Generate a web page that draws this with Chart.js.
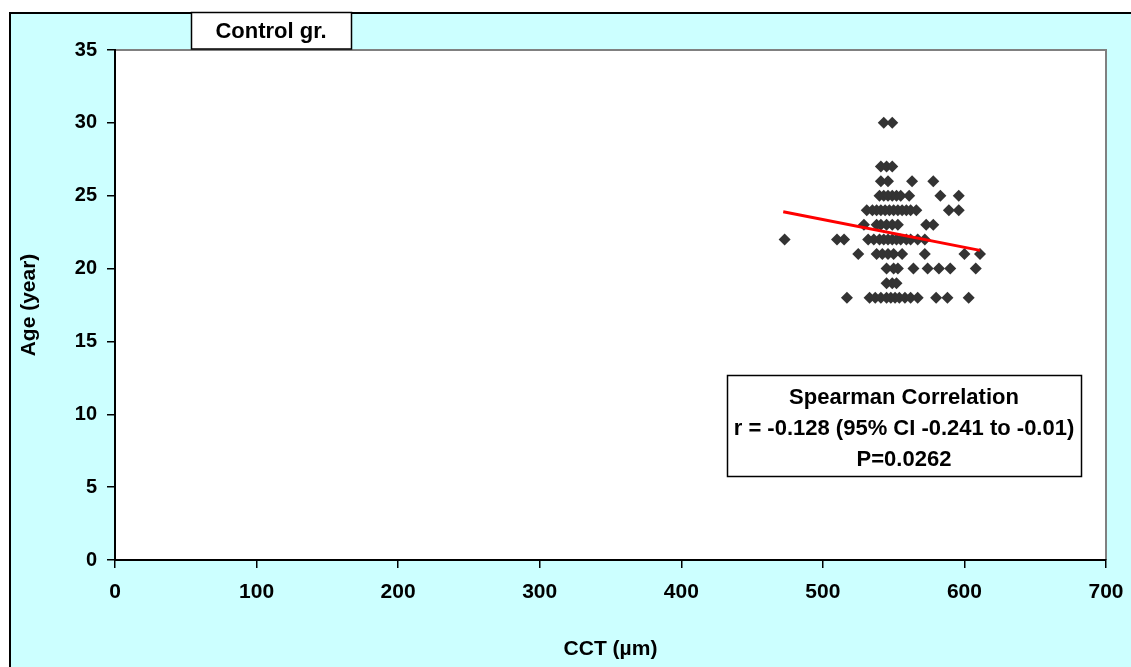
<!DOCTYPE html>
<html>
<head>
<meta charset="utf-8">
<script src="https://cdn.jsdelivr.net/npm/chart.js@4.4.0/dist/chart.umd.min.js"></script>
<style>
  html, body { margin: 0; padding: 0; background: #fff; }
  #wrap { width: 1131px; height: 667px; position: relative; }
</style>
</head>
<body>
<div id="wrap"><canvas id="myChart"></canvas></div>
<script>
// CCT readings (µm) grouped by age (years)
const ages = [18, 19, 20, 21, 22, 23, 24, 25, 26, 27, 30];
const cct18 = [517, 533, 537, 541, 545, 548, 551, 554, 558, 562, 567, 580, 588, 603];
const cct19 = [545, 549, 552];
const cct20 = [545, 550, 553, 564, 574, 582, 590, 608];
const cct21 = [525, 538, 542, 546, 550, 556, 572, 600, 611];
const cct22 = [473, 510, 515, 532, 536, 540, 543, 546, 549, 552, 555, 559, 562, 567, 572];
const cct23 = [529, 538, 541, 545, 549, 553, 573, 578];
const cct24 = [531, 535, 538, 541, 544, 547, 550, 553, 556, 559, 562, 566, 589, 596];
const cct25 = [540, 543, 546, 549, 552, 555, 561, 583, 596];
const cct26 = [541, 546, 563, 578];
const cct27 = [541, 545, 549];
const cct30 = [543, 549];
const cctGroups = [cct18, cct19, cct20, cct21, cct22, cct23, cct24, cct25, cct26, cct27, cct30];

// fitted line end points
const trendCct = [472, 611];
const trendAge = [23.9, 21.25];

const xTicks = [0, 100, 200, 300, 400, 500, 600, 700];
const yTicks = [0, 5, 10, 15, 20, 25, 30, 35];

const points = [];
ages.forEach((age, i) => {
  cctGroups[i].forEach(v => points.push({x: v, y: age}));
});
const trend = trendCct.map((v, i) => ({x: v, y: trendAge[i]}));

const statLines = [
  'Spearman Correlation',
  'r = -0.128 (95% CI -0.241 to -0.01)',
  'P=0.0262'
];

const FONT = '"Liberation Sans", Arial, sans-serif';

const frame = {
  id: 'frame',
  beforeDraw(chart) {
    const ctx = chart.ctx;
    const a = chart.chartArea;
    ctx.save();
    ctx.fillStyle = '#ccffff';
    ctx.fillRect(9, 12, chart.width, chart.height);
    ctx.strokeStyle = '#000';
    ctx.lineWidth = 2;
    ctx.strokeRect(10, 13, chart.width + 10, chart.height + 10);
    ctx.fillStyle = '#fff';
    ctx.fillRect(a.left, a.top, a.right - a.left, a.bottom - a.top);
    ctx.strokeStyle = '#808080';
    ctx.beginPath();
    ctx.moveTo(a.left, a.top);
    ctx.lineTo(a.right, a.top);
    ctx.lineTo(a.right, a.bottom);
    ctx.stroke();
    // title box
    ctx.fillStyle = '#fff';
    ctx.fillRect(191, 12, 161, 37);
    ctx.lineWidth = 1.5;
    ctx.strokeStyle = '#000';
    ctx.strokeRect(191.5, 12.5, 160, 36.5);
    ctx.fillStyle = '#000';
    ctx.font = 'bold 22px ' + FONT;
    ctx.textAlign = 'center';
    ctx.textBaseline = 'middle';
    ctx.fillText('Control gr.', 271, 32);
    ctx.restore();
  },
  afterDraw(chart) {
    const ctx = chart.ctx;
    ctx.save();
    ctx.fillStyle = '#fff';
    ctx.fillRect(727, 375, 355, 102);
    ctx.strokeStyle = '#000';
    ctx.lineWidth = 1.5;
    ctx.strokeRect(727.5, 375.5, 354, 101);
    ctx.fillStyle = '#000';
    ctx.font = 'bold 22px ' + FONT;
    ctx.textAlign = 'center';
    ctx.textBaseline = 'middle';
    statLines.forEach((t, i) => ctx.fillText(t, 904, 398 + i * 31));
    ctx.restore();
  }
};

const data = {
  datasets: [{
    type: 'scatter',
    label: 'Control',
    data: points,
    pointStyle: 'rectRot',
    pointRadius: 6,
    pointHoverRadius: 6,
    backgroundColor: '#333333',
    borderColor: '#333333',
    borderWidth: 0,
    order: 2
  }, {
    type: 'line',
    label: 'Trend',
    data: trend,
    borderColor: '#ff0000',
    borderWidth: 3,
    pointRadius: 0,
    fill: false,
    order: 1
  }]
};

const config = {
  type: 'scatter',
  data: data,
  plugins: [frame],
  options: {
    responsive: true,
    maintainAspectRatio: false,
    animation: false,
    layout: { padding: { left: 10, top: 50, right: 25, bottom: 0 } },
    plugins: {
      legend: { display: false },
      tooltip: { enabled: false }
    },
    scales: {
      x: {
        type: 'linear',
        min: 0,
        max: 700,
        afterFit(scale) {
          scale.height = 107;
          scale.paddingLeft = 0;
          scale.paddingRight = 0;
        },
        afterBuildTicks(scale) { scale.ticks = xTicks.map(v => ({value: v})); },
        grid: { drawOnChartArea: false, tickLength: 8, color: '#000', lineWidth: 1.5 },
        border: { color: '#000', width: 2 },
        ticks: { color: '#000', padding: 12, font: { family: FONT, size: 21, weight: 'bold' } },
        title: {
          display: true,
          text: 'CCT (µm)',
          color: '#000',
          padding: { top: 0, bottom: 5 },
          font: { family: FONT, size: 21, weight: 'bold' }
        }
      },
      y: {
        type: 'linear',
        min: 0,
        max: 35,
        afterFit(scale) {
          scale.width = 105;
          scale.paddingTop = 0;
          scale.paddingBottom = 0;
        },
        afterBuildTicks(scale) { scale.ticks = yTicks.map(v => ({value: v})); },
        grid: { drawOnChartArea: false, tickLength: 8, color: '#000', lineWidth: 1.5 },
        border: { color: '#000', width: 2 },
        ticks: { color: '#000', padding: 10, font: { family: FONT, size: 20, weight: 'bold' } },
        title: {
          display: true,
          text: 'Age (year)',
          color: '#000',
          padding: { top: 7, bottom: 0 },
          font: { family: FONT, size: 21, weight: 'bold' }
        }
      }
    }
  }
};

const myChart = new Chart(document.getElementById('myChart'), config);
</script>
</body>
</html>
